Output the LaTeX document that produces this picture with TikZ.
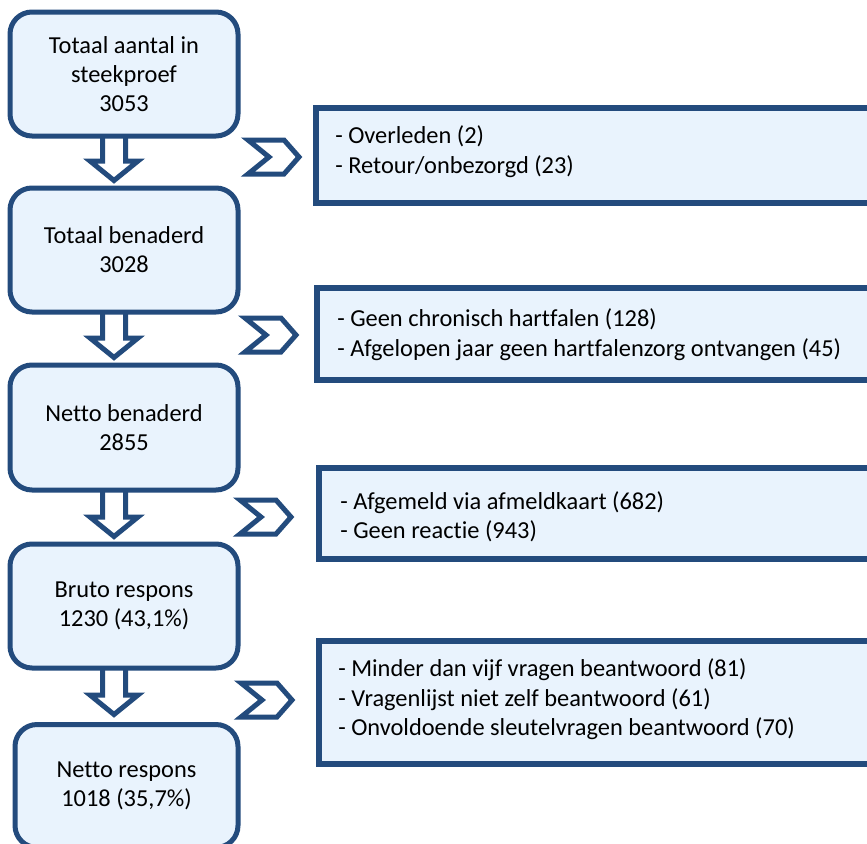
\documentclass[tikz,border=0pt]{standalone}
\usepackage{fontspec}
\setmainfont{Carlito}[Ligatures=NoCommon]
\usetikzlibrary{calc}
\newlength\px \setlength\px{0.75pt}
\definecolor{bord}{RGB}{35,75,125}
\definecolor{fillb}{RGB}{233,243,253}
\newcommand\blockarrow[2]{%
  \coordinate (tipref) at (#1.south |- #2.north);
  \draw[barrow] ($(#1.south)+(-21.5,-3)$) -- ($(tipref)+(-21.5,-27)$) -- ($(tipref)+(-34,-27)$)
     -- ($(tipref)+(-10,-7.5)$) -- ($(tipref)+(14,-27)$) -- ($(tipref)+(1.5,-27)$)
     -- ($(#1.south)+(1.5,-3)$) -- cycle;}
\newcommand\chevron[2]{%
  \draw[chev] (#1,#2-17) -- (#1+36,#2-17) -- (#1+51,#2) -- (#1+36,#2+17) -- (#1,#2+17) -- (#1+21,#2) -- cycle;}
\begin{document}
\begin{tikzpicture}[x=0.75pt, y=-0.75pt,
  lbox/.style={draw=bord, fill=fillb, line width=5\px, rounded corners=22\px, outer sep=0pt,
    inner sep=0pt, align=center, font=\fontsize{18.3}{21.9}\selectfont,
    minimum width=228\px, minimum height=124\px},
  rbox/.style={draw=bord, fill=fillb, line width=5.5\px, outer sep=0pt, inner sep=0pt,
    minimum width=600\px, anchor=north west},
  rtext/.style={anchor=west, align=left, inner sep=0pt, font=\fontsize{18.3}{22.1}\selectfont},
  barrow/.style={draw=bord, fill=white, line width=5\px, line join=miter},
  chev/.style={draw=bord, fill=white, line width=5\px, line join=miter}]
\clip (0,0) rectangle (867,843);
\fill[white] (0,0) rectangle (867,843);

% anchor boxes for the block arrows
\path (124,74) node[lbox, draw=none, fill=none] (b1) {\phantom{x}};
\path (124,250) node[lbox, draw=none, fill=none] (b2) {\phantom{x}};
\path (124,427.5) node[lbox, draw=none, fill=none, minimum height=125\px] (b3) {\phantom{x}};
\path (124,606) node[lbox, draw=none, fill=none] (b4) {\phantom{x}};
\path (126.5,783.5) node[lbox, draw=none, fill=none, minimum width=223\px, minimum height=123\px] (b5) {\phantom{x}};

% block arrows
\blockarrow{b1}{b2}
\blockarrow{b2}{b3}
\blockarrow{b3}{b4}
\blockarrow{b4}{b5}

% visible boxes
\node[lbox] (t1) at (b1) {Totaal aantal in\\steekproef\\3053};
\node[lbox] (t2) at (b2) {Totaal benaderd\\3028};
\node[lbox, minimum height=125\px] (t3) at (b3) {Netto benaderd\\2855};
\node[lbox] (t4) at (b4) {Bruto respons\\1230 (43,1\%)};
\node[lbox, minimum width=223\px, minimum height=123\px] (t5) at ($(b5)+(0,2.5)$) {Netto respons\\1018 (35,7\%)};

% chevrons
\chevron{248}{157}
\chevron{245}{335}
\chevron{240}{517}
\chevron{241}{700}

% right boxes
\node[rbox, minimum height=95\px] (r1) at (316,108) {};
\node[rbox, minimum height=92\px] (r2) at (317,288) {};
\node[rbox, minimum height=91\px] (r3) at (319,468) {};
\node[rbox, minimum height=123\px] (r4) at (319,641) {};

\node[rtext] (x1) at ($(r1.west)+(19,-4)$) {- Overleden (2)\\- Retour/onbezorgd (23)};
\node[rtext] (x2) at ($(r2.west)+(20,0.5)$) {- Geen chronisch hartfalen (128)\\- Afgelopen jaar geen hartfalenzorg ontvangen (45)};
\node[rtext] (x3) at ($(r3.west)+(21,3.5)$) {- Afgemeld via afmeldkaart (682)\\- Geen reactie (943)};
\node[rtext] (x4) at ($(r4.west)+(19,-3)$) {- Minder dan vijf vragen beantwoord (81)\\- Vragenlijst niet zelf beantwoord (61)\\- Onvoldoende sleutelvragen beantwoord (70)};
\end{tikzpicture}
\end{document}
